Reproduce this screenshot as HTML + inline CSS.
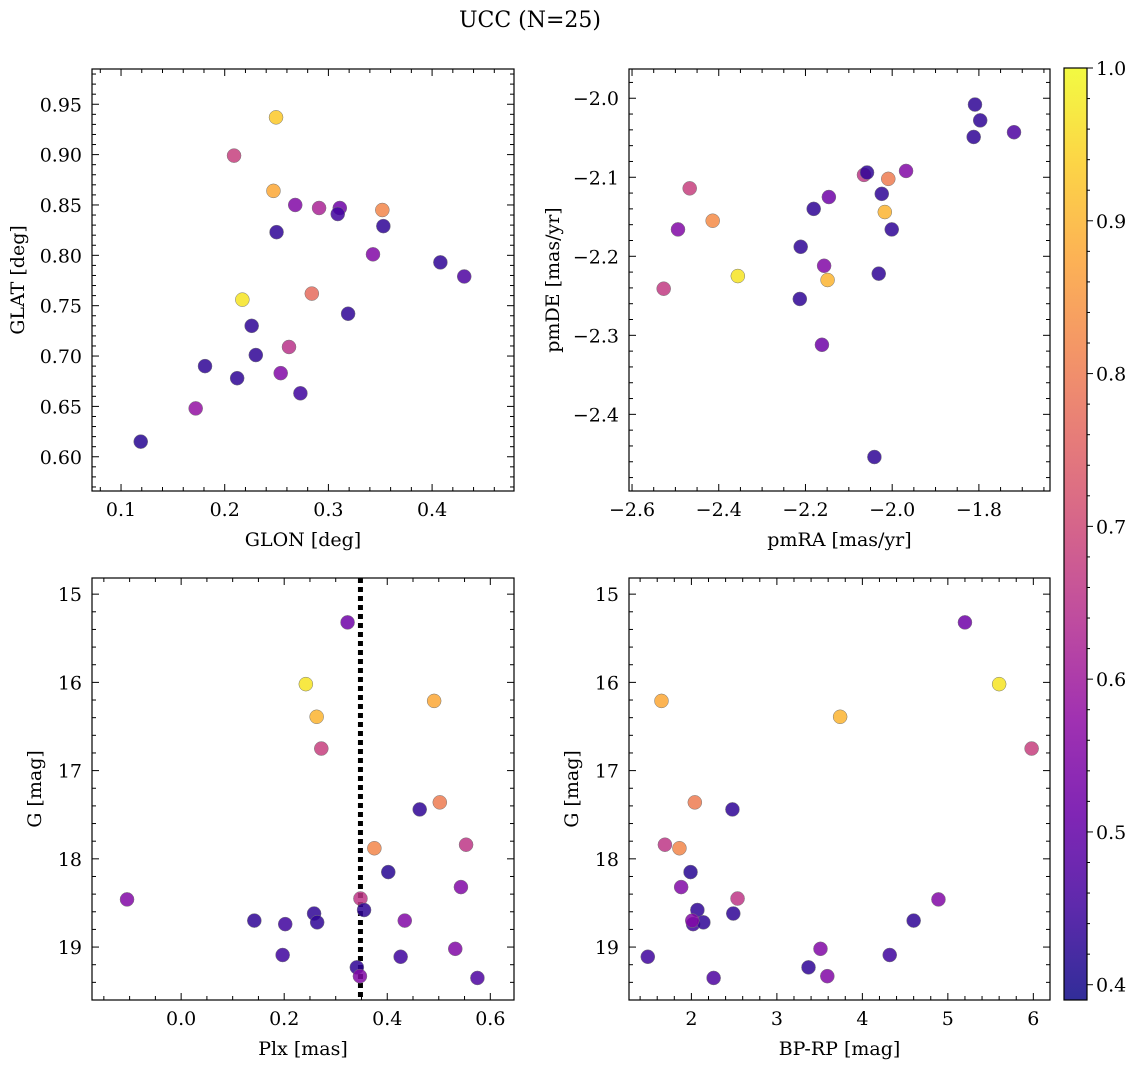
<!DOCTYPE html>
<html><head><meta charset="utf-8"><style>
body{margin:0;background:#fff}
svg{display:block;font-family:"DejaVu Serif","Liberation Serif",serif}
</style></head><body>
<svg id="fig" width="1136" height="1068" viewBox="0 0 1136 1068">
<text x="530" y="27" text-anchor="middle" font-size="22">UCC (N=25)</text>
</svg>
<script>
// Panel 1: GLON vs GLAT
const glon1=[0.2495,0.209,0.247,0.268,0.291,0.311,0.309,0.352,0.250,0.353,0.343,0.408,0.431,0.217,0.284,0.319,0.226,0.262,0.230,0.181,0.254,0.212,0.273,0.172,0.119];
const glat1=[0.937,0.899,0.864,0.850,0.847,0.847,0.841,0.845,0.823,0.829,0.801,0.793,0.779,0.756,0.762,0.742,0.730,0.709,0.701,0.690,0.683,0.678,0.663,0.648,0.615];
const prob1=[0.93,0.68,0.88,0.55,0.62,0.52,0.45,0.82,0.43,0.43,0.55,0.43,0.47,0.97,0.77,0.43,0.43,0.65,0.43,0.43,0.55,0.43,0.45,0.58,0.42];
// Panel 2: pmRA vs pmDE
const pmra2=[-1.809,-1.797,-1.812,-1.719,-2.467,-2.494,-2.414,-2.065,-2.058,-1.968,-2.009,-2.017,-2.024,-2.001,-2.146,-2.181,-2.211,-2.356,-2.149,-2.157,-2.031,-2.527,-2.213,-2.162,-2.041];
const pmde2=[-2.008,-2.028,-2.049,-2.043,-2.114,-2.166,-2.155,-2.097,-2.094,-2.092,-2.102,-2.144,-2.121,-2.166,-2.125,-2.140,-2.188,-2.225,-2.230,-2.212,-2.222,-2.241,-2.254,-2.312,-2.454];
const prob2=[0.43,0.43,0.43,0.47,0.68,0.55,0.83,0.66,0.43,0.55,0.80,0.90,0.43,0.43,0.52,0.43,0.43,0.97,0.90,0.55,0.43,0.67,0.43,0.52,0.43];
// Panel 3: Plx vs G
const plx3=[0.323,0.242,0.263,0.272,0.491,0.502,0.463,0.553,0.375,0.402,0.543,-0.105,0.348,0.355,0.258,0.142,0.202,0.264,0.434,0.197,0.532,0.426,0.341,0.347,0.575];
const g3=[15.32,16.02,16.39,16.75,16.21,17.36,17.44,17.84,17.88,18.15,18.32,18.46,18.45,18.58,18.62,18.70,18.74,18.72,18.70,19.09,19.02,19.11,19.23,19.33,19.35];
const prob3=[0.52,0.97,0.90,0.68,0.88,0.80,0.43,0.66,0.82,0.42,0.55,0.55,0.66,0.43,0.43,0.43,0.45,0.43,0.55,0.45,0.55,0.45,0.43,0.55,0.47];
const plxLine=[0.348];
// Panel 4: BP-RP vs G
const bprp4=[5.20,5.60,1.65,3.74,5.98,2.04,2.48,1.69,1.86,1.99,1.88,4.89,2.54,2.07,2.49,4.60,2.02,2.14,2.01,4.32,3.51,1.49,3.37,3.59,2.26];
const g4=[15.32,16.02,16.21,16.39,16.75,17.36,17.44,17.84,17.88,18.15,18.32,18.46,18.45,18.58,18.62,18.70,18.74,18.72,18.70,19.09,19.02,19.11,19.23,19.33,19.35];
const prob4=[0.52,0.97,0.88,0.90,0.68,0.80,0.43,0.66,0.82,0.42,0.55,0.55,0.66,0.43,0.43,0.43,0.45,0.43,0.55,0.45,0.55,0.45,0.43,0.55,0.47];
const cTicks=[0.4,0.5,0.6,0.7,0.8,0.9,1.0];

const NS="http://www.w3.org/2000/svg";
const svg=document.getElementById('fig');
const FS=19;
function mk(tag,attrs,parent){const e=document.createElementNS(NS,tag);for(const k in attrs)e.setAttribute(k,attrs[k]);(parent||svg).appendChild(e);return e;}
const CMIN=0.39,CMAX=1.0;
const stops=["#0d0887","#41049d","#6a00a8","#8f0da4","#b12a90","#cc4778","#e16462","#f2844b","#fca636","#fcce25","#f0f921"];
function hex(h){return [1,3,5].map(i=>parseInt(h.substr(i,2),16));}
function plasma(v){let t=(v-CMIN)/(CMAX-CMIN);t=Math.max(0,Math.min(1,t));const f=t*10,i=Math.min(9,Math.floor(f)),r=f-i;const a=hex(stops[i]),b=hex(stops[i+1]);return 'rgb('+a.map((x,k)=>Math.round(x+(b[k]-x)*r)).join(',')+')';}
function fmt(v,d){return (v<0?'\u2212':'')+Math.abs(v).toFixed(d);}

function panel(o){
  const g=mk('g',{});
  
  
  const X=v=>o.x0+(v-o.xr[0])/(o.xr[1]-o.xr[0])*(o.x1-o.x0);
  const Y=v=>o.inv? o.y0+(v-o.yr[0])/(o.yr[1]-o.yr[0])*(o.y1-o.y0) : o.y1-(v-o.yr[0])/(o.yr[1]-o.yr[0])*(o.y1-o.y0);
  function ticks(axis,step,nmin,dec){
    const r=axis==='x'?o.xr:o.yr;const lo=Math.min(r[0],r[1]),hi=Math.max(r[0],r[1]);
    const ms=step/nmin;
    for(let k=Math.ceil((lo-1e-9)/ms);k*ms<=hi+1e-9;k++){
      const v=k*ms;const major=Math.abs(v/step-Math.round(v/step))<1e-6;const L=major?7:4;
      if(axis==='x'){const p=X(v);
        mk('line',{x1:p,x2:p,y1:o.y1,y2:o.y1-L,stroke:'#000','stroke-width':1},g);
        mk('line',{x1:p,x2:p,y1:o.y0,y2:o.y0+L,stroke:'#000','stroke-width':1},g);
        if(major){const t=mk('text',{x:p,y:o.y1+25,'text-anchor':'middle','font-size':FS},g);t.textContent=fmt(v,dec);
          }
      }else{const p=Y(v);
        mk('line',{x1:o.x0,x2:o.x0+L,y1:p,y2:p,stroke:'#000','stroke-width':1},g);
        mk('line',{x1:o.x1,x2:o.x1-L,y1:p,y2:p,stroke:'#000','stroke-width':1},g);
        if(major){const t=mk('text',{x:o.x0-10,y:p+7,'text-anchor':'end','font-size':FS},g);t.textContent=fmt(v,dec);
          }
      }
    }
  }
  ticks('x',o.xs[0],o.xs[1],o.xs[2]);ticks('y',o.ys[0],o.ys[1],o.ys[2]);
  if(o.vline){for(const v of o.vline){const l=mk('line',{x1:X(v),x2:X(v),y1:o.y0,y2:o.y1,stroke:'#000','stroke-width':5,'stroke-dasharray':'5,4'},g);
    }}
  for(let i=0;i<o.xd.length;i++){
    const c=mk('circle',{cx:X(o.xd[i]),cy:Y(o.yd[i]),r:7,fill:plasma(o.cd[i]),'fill-opacity':0.85,stroke:'#777','stroke-width':0.5},g);
    
    
  }
  const f=mk('rect',{x:o.x0,y:o.y0,width:o.x1-o.x0,height:o.y1-o.y0,fill:'none',stroke:'#000','stroke-width':1.2},g);
  
  const xl=mk('text',{x:(o.x0+o.x1)/2,y:o.y1+55,'text-anchor':'middle','font-size':FS},g);xl.textContent=o.xlab;
  
  const yy=(o.y0+o.y1)/2;const yl=mk('text',{x:o.ylx,y:yy,'text-anchor':'middle','font-size':FS,transform:'rotate(-90 '+o.ylx+' '+yy+')'},g);yl.textContent=o.ylab;
  
}
panel({name:'glon-glat-panel',x0:92,x1:514,y0:69,y1:491,xr:[0.072,0.479],yr:[0.566,0.985],xs:[0.1,5,1],ys:[0.05,5,2],xd:glon1,yd:glat1,cd:prob1,xlab:'GLON [deg]',ylab:'GLAT [deg]',ylx:24});
panel({name:'pm-panel',x0:629,x1:1050,y0:69,y1:491,xr:[-2.607,-1.636],yr:[-2.497,-1.963],xs:[0.2,4,1],ys:[0.1,5,1],xd:pmra2,yd:pmde2,cd:prob2,xlab:'pmRA [mas/yr]',ylab:'pmDE [mas/yr]',ylx:559});
panel({name:'plx-g-panel',x0:92,x1:514,y0:578,y1:1000,xr:[-0.173,0.646],yr:[14.817,19.60],inv:true,xs:[0.2,4,1],ys:[1,5,0],xd:plx3,yd:g3,cd:prob3,xlab:'Plx [mas]',ylab:'G [mag]',ylx:41,vline:plxLine});
panel({name:'cmd-panel',x0:629,x1:1050,y0:578,y1:1000,xr:[1.27,6.195],yr:[14.817,19.60],inv:true,xs:[1,5,0],ys:[1,5,0],xd:bprp4,yd:g4,cd:prob4,xlab:'BP-RP [mag]',ylab:'G [mag]',ylx:578});

// colorbar
const cb=mk('g',{});


const defs=mk('defs',{},svg);const grad=mk('linearGradient',{id:'cg',x1:0,y1:1,x2:0,y2:0},defs);
for(let i=0;i<=20;i++){mk('stop',{offset:i/20,'stop-color':plasma(CMIN+(CMAX-CMIN)*i/20),'stop-opacity':0.85},grad);}
const cx0=1064,cx1=1087,cy0=68,cy1=1000;
mk('rect',{x:cx0,y:cy0,width:cx1-cx0,height:cy1-cy0,fill:'url(#cg)',stroke:'#000','stroke-width':1.2},cb);
const CY=v=>cy1-(v-CMIN)/(CMAX-CMIN)*(cy1-cy0);
for(let k=Math.ceil(CMIN/0.02-1e-6);k*0.02<=CMAX+1e-9;k++){const v=k*0.02;const y=CY(v);const major=Math.abs(v*10-Math.round(v*10))<1e-6;
  mk('line',{x1:cx1,x2:cx1+(major?6:3),y1:y,y2:y,stroke:'#000','stroke-width':1},cb);}
for(const v of cTicks){const t=mk('text',{x:cx1+9,y:CY(v)+7,'font-size':FS},cb);t.textContent=v.toFixed(1);
  }
</script>
</body></html>
